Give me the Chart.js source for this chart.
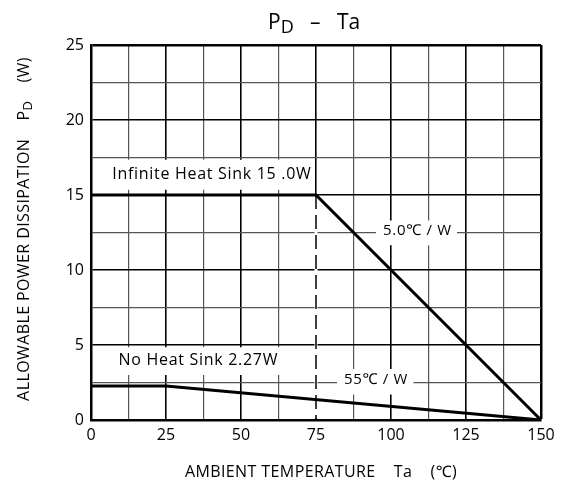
<!DOCTYPE html>
<html>
<head>
<meta charset="utf-8">
<script src="https://cdn.jsdelivr.net/npm/chart.js@4/dist/chart.umd.min.js"></script>
<style>
  html, body { margin: 0; padding: 0; background: #fff; }
  #wrap { width: 562px; height: 484px; }
</style>
</head>
<body>
<div id="wrap"><canvas id="pd-chart" width="562" height="484"></canvas></div>
<script>
// derating curves
const tempInfinite = [0, 75, 150];
const powerInfinite = [15, 15, 0];
const tempNoSink = [0, 25, 150];
const powerNoSink = [2.27, 2.27, 0];
const tempKnee = [75, 75];
const powerKnee = [15, 0];

const xTickLabels = [0, 25, 50, 75, 100, 125, 150];
const yTickLabels = [0, 5, 10, 15, 20, 25];

const FONT = '"Open Sans", "Noto Sans", sans-serif';

const toPoints = (xs, ys) => xs.map((x, i) => ({ x: x, y: ys[i] }));

// text notes on the plot, white box behind each (box in data units)
const notes = [
    { text: 'Infinite Heat Sink 15 .0W', x: 40.3, y: 16.4, size: 16, box: [0, 73.5, 15.35, 17.35] },
    { text: '5.0\u2103 / W', x: 108.8, y: 12.65, size: 15, box: [95, 122, 11.65, 13.3] },
    { text: 'No Heat Sink 2.27W', x: 35.8, y: 3.95, size: 16, box: [0, 73, 3.0, 4.85] },
    { text: '55\u2103 / W', x: 95, y: 2.7, size: 15, box: [82, 107.5, 1.7, 3.4] }
];

const overlay = {
    id: 'overlay',
    beforeDatasetsDraw(chart) {
        const ctx = chart.ctx;
        const xs = chart.scales.x, ys = chart.scales.y;
        ctx.save();
        // the grid line at 75 is replaced by the dashed knee line below 15 W
        ctx.strokeStyle = '#fff';
        ctx.lineWidth = 3;
        ctx.beginPath();
        ctx.moveTo(xs.getPixelForValue(75), ys.getPixelForValue(15) + 2);
        ctx.lineTo(xs.getPixelForValue(75), ys.getPixelForValue(0) - 2);
        ctx.stroke();

        ctx.letterSpacing = '0.7px';
        ctx.textAlign = 'center';
        ctx.textBaseline = 'middle';
        notes.forEach(n => {
            const x0 = Math.max(xs.getPixelForValue(n.box[0]), xs.left + 2);
            const x1 = xs.getPixelForValue(n.box[1]);
            const y0 = ys.getPixelForValue(n.box[3]);
            const y1 = ys.getPixelForValue(n.box[2]);
            ctx.fillStyle = '#fff';
            ctx.fillRect(x0, y0, x1 - x0, y1 - y0);
            ctx.fillStyle = '#000';
            ctx.font = n.size + 'px ' + FONT;
            ctx.fillText(n.text, xs.getPixelForValue(n.x), ys.getPixelForValue(n.y));
        });
        ctx.restore();
    },
    afterDraw(chart) {
        const ctx = chart.ctx;
        ctx.save();
        ctx.fillStyle = '#000';
        ctx.textBaseline = 'alphabetic';
        ctx.textAlign = 'left';

        // title "PD - Ta" with subscript D
        ctx.font = '21px ' + FONT;
        let x = 268;
        ctx.fillText('P', x, 29);
        x += ctx.measureText('P').width;
        ctx.font = '18px ' + FONT;
        ctx.fillText('D', x, 33);
        x += ctx.measureText('D').width;
        ctx.font = '21px ' + FONT;
        ctx.fillText('   \u2013   Ta', x, 29);

        // x axis title
        ctx.font = '16px ' + FONT;
        ctx.letterSpacing = '0.4px';
        ctx.textAlign = 'center';
        ctx.fillText('AMBIENT TEMPERATURE    Ta    (\u2103)', 321, 477);

        // y axis title, rotated, with subscript D
        ctx.translate(29, 229);
        ctx.rotate(-Math.PI / 2);
        ctx.textAlign = 'left';
        const partA = 'ALLOWABLE POWER DISSIPATION    P';
        const partC = '    (W)';
        ctx.font = '16px ' + FONT;
        const wA = ctx.measureText(partA).width;
        const wC = ctx.measureText(partC).width;
        ctx.font = '13px ' + FONT;
        const wB = ctx.measureText('D').width;
        let sx = -(wA + wB + wC) / 2;
        ctx.font = '16px ' + FONT;
        ctx.fillText(partA, sx, 0);
        sx += wA;
        ctx.font = '13px ' + FONT;
        ctx.fillText('D', sx, 3);
        sx += wB;
        ctx.font = '16px ' + FONT;
        ctx.fillText(partC, sx, 0);
        ctx.restore();
    }
};

const gridColor = (major) => (c) => (c.tick && c.tick.value % major === 0) ? '#000' : '#555';
const gridWidth = (major, edge) => (c) => {
    if (!c.tick) return 1;
    if (c.tick.value === edge) return 2.5;
    return c.tick.value % major === 0 ? 1.6 : 1.2;
};

const ctx = document.getElementById('pd-chart').getContext('2d');
new Chart(ctx, {
    type: 'line',
    data: {
        datasets: [
            { data: toPoints(tempInfinite, powerInfinite), borderColor: '#000', borderWidth: 3, pointRadius: 0, tension: 0 },
            { data: toPoints(tempNoSink, powerNoSink), borderColor: '#000', borderWidth: 3, pointRadius: 0, tension: 0 },
            { data: toPoints(tempKnee, powerKnee), borderColor: '#000', borderWidth: 1.5, borderDash: [14, 6], pointRadius: 0, tension: 0 }
        ]
    },
    options: {
        responsive: false,
        animation: false,
        layout: { padding: { top: 45, right: 21, left: 0, bottom: 0 } },
        plugins: { legend: { display: false }, tooltip: { enabled: false }, title: { display: false } },
        scales: {
            x: {
                type: 'linear',
                min: 0, max: 150,
                afterFit: s => { s.height = 64; },
                afterBuildTicks: s => {
                    const t = [];
                    for (let v = 0; v <= 150; v += 12.5) t.push({ value: v });
                    s.ticks = t;
                },
                ticks: {
                    autoSkip: false, maxRotation: 0, padding: 6, color: '#000',
                    font: { family: FONT, size: 16 },
                    callback: v => xTickLabels.includes(v) ? String(v) : ''
                },
                grid: { color: gridColor(25), lineWidth: gridWidth(25, 150), drawTicks: false },
                border: { color: '#000', width: 2.5 }
            },
            y: {
                min: 0, max: 25,
                afterFit: s => { s.width = 91; },
                afterBuildTicks: s => {
                    const t = [];
                    for (let v = 0; v <= 25; v += 2.5) t.push({ value: v });
                    s.ticks = t;
                },
                ticks: {
                    autoSkip: false, padding: 7, color: '#000',
                    font: { family: FONT, size: 16 },
                    callback: v => yTickLabels.includes(v) ? String(v) : ''
                },
                grid: { color: gridColor(5), lineWidth: gridWidth(5, 25), drawTicks: false },
                border: { color: '#000', width: 2.5 }
            }
        }
    },
    plugins: [overlay]
});
</script>
</body>
</html>
